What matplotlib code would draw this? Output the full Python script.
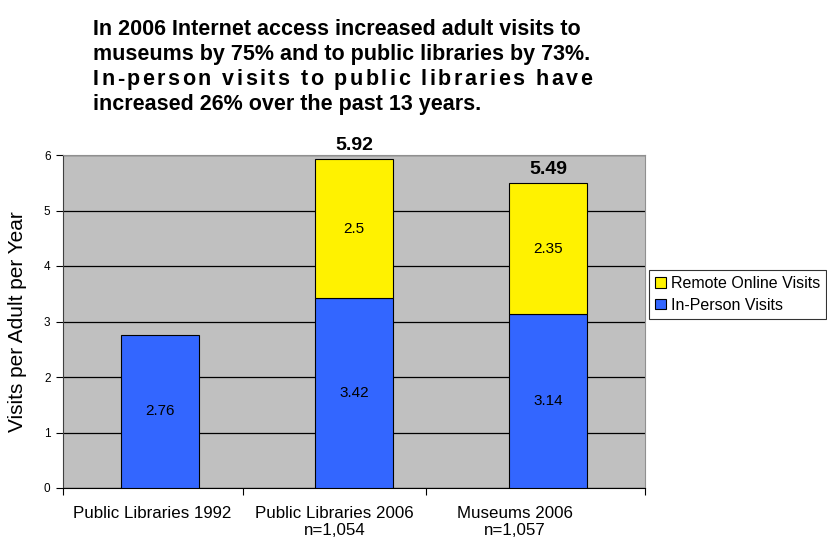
import matplotlib
matplotlib.use('Agg')
import matplotlib.pyplot as plt
import numpy as np

plt.rcParams['font.family'] = ['Liberation Sans', 'DejaVu Sans']

# data
categories = ['Public Libraries 1992', 'Public Libraries 2006\nn=1,054', 'Museums 2006\nn=1,057']
in_person = [2.76, 3.42, 3.14]
remote = [0, 2.5, 2.35]
title_lines = ['In 2006 Internet access increased adult visits to',
               'museums by 75% and to public libraries by 73%.',
               'In-person visits to public libraries have',
               'increased 26% over the past 13 years.']

blue = '#3366FF'
yellow = '#FFF200'

fig = plt.figure(figsize=(8.27, 5.39), dpi=100)
ax = fig.add_axes([63/827, 51/539, 582/827, 333/539])
ax.set_facecolor('#C0C0C0')

x = np.arange(len(categories))
w = 0.40
b1 = ax.bar(x, in_person, w, color=blue, edgecolor='black', linewidth=0.8,
            label='In-Person Visits', zorder=3)
has_remote = [i for i in range(len(remote)) if remote[i] > 0]
b2 = ax.bar(x[has_remote], [remote[i] for i in has_remote], w,
            bottom=[in_person[i] for i in has_remote], color=yellow,
            edgecolor='black', linewidth=0.8, label='Remote Online Visits', zorder=3)

for i in range(len(categories)):
    ax.text(x[i], in_person[i] / 2, f'{in_person[i]:g}', ha='center', va='center',
            fontsize=11, zorder=4)
    if remote[i] > 0:
        ax.text(x[i], in_person[i] + remote[i] / 2, f'{remote[i]:g}', ha='center',
                va='center', fontsize=11, zorder=4)
        tot = in_person[i] + remote[i]
        ax.annotate(f'{tot:.2f}', (x[i], tot), xytext=(0, 4), textcoords='offset points',
                    ha='center', va='bottom', fontsize=14, fontweight='bold')

ax.set_xlim(-0.5, 2.5)
ax.set_ylim(0, 6)
ax.set_yticks(range(0, 7))
ax.yaxis.grid(True, color='black', linewidth=0.9, zorder=1)
ax.set_axisbelow(True)
ax.tick_params(axis='y', direction='out', length=5, width=0.8, labelsize=8.5, pad=4)

# category labels sit slightly left of the bars, like the original
ax.set_xticks([-0.04, 0.9, 1.83])
ax.set_xticklabels(categories, fontsize=12.2)
ax.tick_params(axis='x', which='major', length=0, pad=13)
ax.set_xticks([-0.5, 0.43, 1.37, 2.5], minor=True)
ax.tick_params(axis='x', which='minor', direction='out', length=5, width=0.8)
for lbl in ax.get_xticklabels():
    lbl.set_linespacing(1.15)

for s in ['top', 'right']:
    ax.spines[s].set_color('#909090')
    ax.spines[s].set_linewidth(0.8)
ax.spines['left'].set_color('#404040')
ax.spines['bottom'].set_color('black')

ax.set_ylabel('Visits per Adult per Year', fontsize=15, labelpad=12)

handles = [b2, b1]
leg = fig.legend(handles, ['Remote Online Visits', 'In-Person Visits'],
                 loc='upper left', bbox_to_anchor=(649/827, 1 - 270/539),
                 fontsize=11.5, frameon=True, fancybox=False, edgecolor='black',
                 handlelength=0.65, handleheight=0.65, handletextpad=0.3,
                 borderpad=0.4, labelspacing=0.4, borderaxespad=0)
leg.get_frame().set_linewidth(0.8)

# title, third line stretched to full width like the original
left_px = 93
right_px = 592
base_px = [35, 60, 85, 110]
tsize = 15.5
for k, line in enumerate(title_lines):
    y = 1 - base_px[k] / 539
    if k != 2:
        fig.text(left_px / 827, y, line, fontsize=tsize, fontweight='bold', va='baseline')
    else:
        r = fig.canvas.get_renderer()
        widths = []
        for ch in line:
            t = fig.text(0, 0, ch if ch != ' ' else 'a a', fontsize=tsize, fontweight='bold')
            bb = t.get_window_extent(r).width
            if ch == ' ':
                t2 = fig.text(0, 0, 'aa', fontsize=tsize, fontweight='bold')
                bb = bb - t2.get_window_extent(r).width
                t2.remove()
            widths.append(bb)
            t.remove()
        extra = (right_px - left_px - widths[-1] - sum(widths[:-1])) / (len(line) - 1)
        xp = left_px
        for ch, wd in zip(line, widths):
            fig.text(xp / 827, y, ch, fontsize=tsize, fontweight='bold', va='baseline')
            xp += wd + extra

fig.savefig('out.png', dpi=100)
